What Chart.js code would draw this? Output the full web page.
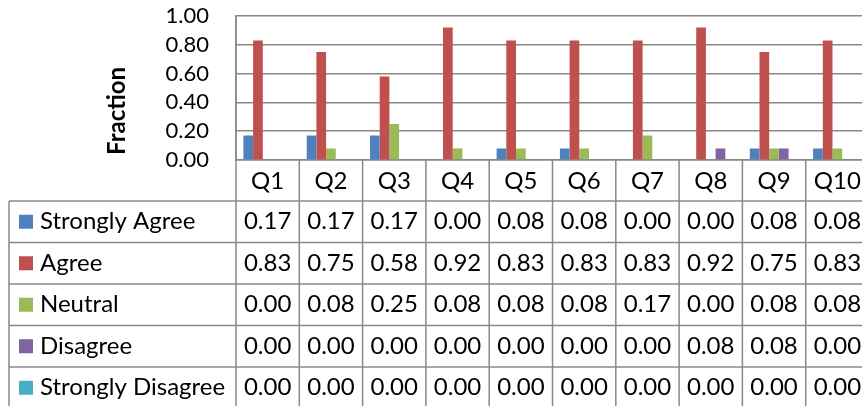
<!DOCTYPE html>
<html>
<head>
<meta charset="utf-8">
<script src="https://cdn.jsdelivr.net/npm/chart.js@4"></script>
<style>
  html, body { margin: 0; padding: 0; background: #fff; overflow: hidden; }
  #wrap { width: 880px; height: 406px; }
</style>
</head>
<body>
<div id="wrap"><canvas id="c" width="880" height="406"></canvas></div>
<script>
// Survey responses per question, as fractions of respondents
const questions = ['Q1', 'Q2', 'Q3', 'Q4', 'Q5', 'Q6', 'Q7', 'Q8', 'Q9', 'Q10'];
const stronglyAgree    = [0.17, 0.17, 0.17, 0.00, 0.08, 0.08, 0.00, 0.00, 0.08, 0.08];
const agree            = [0.83, 0.75, 0.58, 0.92, 0.83, 0.83, 0.83, 0.92, 0.75, 0.83];
const neutral          = [0.00, 0.08, 0.25, 0.08, 0.08, 0.08, 0.17, 0.00, 0.08, 0.08];
const disagree         = [0.00, 0.00, 0.00, 0.00, 0.00, 0.00, 0.00, 0.08, 0.08, 0.00];
const stronglyDisagree = [0.00, 0.00, 0.00, 0.00, 0.00, 0.00, 0.00, 0.00, 0.00, 0.00];
const yTicks = [0, 0.2, 0.4, 0.6, 0.8, 1.0];

const seriesNames  = ['Strongly Agree', 'Agree', 'Neutral', 'Disagree', 'Strongly Disagree'];
const seriesValues = [stronglyAgree, agree, neutral, disagree, stronglyDisagree];
const seriesColors = ['#4F81BD', '#C0504D', '#9BBB59', '#8064A2', '#4BACC6'];

const LINE = '#888888';
const FONT = 'Lato, "Open Sans", sans-serif';

// Data table drawn beneath the plot, aligned with the category axis
const dataTable = {
  id: 'dataTable',
  afterDraw(chart) {
    const ctx = chart.ctx;
    const xs = chart.scales.x;
    const area = chart.chartArea;
    const n = questions.length;
    const cw = (xs.right - xs.left) / n;
    const headTop = area.bottom;
    const rowTop = 201;
    const rowH = 41.5;
    const tableLeft = 9;
    const tableBottom = rowTop + rowH * seriesNames.length;

    ctx.save();
    ctx.strokeStyle = LINE;
    ctx.lineWidth = 1.5;

    // horizontal rules
    for (let r = 0; r <= seriesNames.length; r++) {
      const y = rowTop + r * rowH;
      ctx.beginPath();
      ctx.moveTo(tableLeft, y);
      ctx.lineTo(xs.right, y);
      ctx.stroke();
    }
    // left border of the legend column
    ctx.beginPath();
    ctx.moveTo(tableLeft, rowTop);
    ctx.lineTo(tableLeft, tableBottom);
    ctx.stroke();
    // column dividers, starting at the category axis
    for (let i = 0; i <= n; i++) {
      const x = xs.left + i * cw;
      ctx.beginPath();
      ctx.moveTo(x, i === 0 ? area.top : headTop);
      ctx.lineTo(x, tableBottom);
      ctx.stroke();
    }

    ctx.fillStyle = '#000';
    ctx.font = '24px ' + FONT;
    ctx.textBaseline = 'middle';

    // category header
    ctx.textAlign = 'center';
    questions.forEach((q, i) => {
      ctx.fillText(q, xs.getPixelForValue(i), (headTop + rowTop) / 2 + 1);
    });

    // legend keys and values
    seriesNames.forEach((name, r) => {
      const cy = rowTop + r * rowH + rowH / 2;
      ctx.fillStyle = seriesColors[r];
      ctx.fillRect(19, cy - 7, 14, 14);
      ctx.fillStyle = '#000';
      ctx.textAlign = 'left';
      ctx.fillText(name, 40, cy);
      ctx.textAlign = 'center';
      seriesValues[r].forEach((v, i) => {
        ctx.fillText(v.toFixed(2), xs.getPixelForValue(i), cy);
      });
    });

    // value axis title
    ctx.save();
    ctx.translate(117, 111);
    ctx.rotate(-Math.PI / 2);
    ctx.font = 'bold 24px ' + FONT;
    ctx.textAlign = 'center';
    ctx.fillText('Fraction', 0, 0);
    ctx.restore();

    ctx.restore();
  }
};

new Chart(document.getElementById('c'), {
  type: 'bar',
  data: {
    labels: questions,
    datasets: seriesNames.map((name, i) => ({
      label: name,
      data: seriesValues[i],
      backgroundColor: seriesColors[i],
      borderWidth: 0,
      categoryPercentage: 0.766,
      barPercentage: 1
    }))
  },
  options: {
    responsive: false,
    animation: false,
    devicePixelRatio: 1,
    layout: { padding: { top: 16, right: 11, left: 0, bottom: 0 } },
    plugins: { legend: { display: false }, tooltip: { enabled: false } },
    scales: {
      x: {
        ticks: { display: false },
        grid: { display: false },
        border: { display: true, color: LINE, width: 1.5 },
        afterFit(scale) { scale.height = 246; }
      },
      y: {
        min: 0,
        max: 1,
        afterBuildTicks(scale) { scale.ticks = yTicks.map(v => ({ value: v })); },
        ticks: {
          autoSkip: false,
          padding: 27,
          color: '#000',
          font: { family: FONT, size: 22 },
          callback: v => Number(v).toFixed(2)
        },
        grid: { color: LINE, lineWidth: 1.5, drawTicks: false },
        border: { display: true, color: LINE, width: 1.5 },
        afterFit(scale) {
          scale.width = 236;
          scale.paddingTop = 0;
          scale.paddingBottom = 0;
        }
      }
    }
  },
  plugins: [dataTable]
});
</script>
</body>
</html>
